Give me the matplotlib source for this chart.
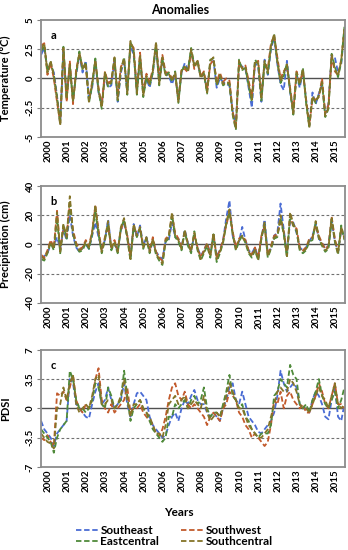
import numpy as np
import matplotlib
matplotlib.use("Agg")
import matplotlib.pyplot as plt

plt.rcParams['font.family'] = ['Lato', 'DejaVu Sans']
plt.rcParams['font.weight'] = 'bold'

years = [str(y) for y in range(2000, 2016)]
regions = ["Southeast", "Southwest", "Eastcentral", "Southcentral"]
colors = ["#4a6cd4", "#c25a2c", "#4f8a3a", "#857428"]

# ---- anomalies, one value every two months from early 2000 ----
# (a) temperature (°C)
temp_se = [2.0, 2.6, 0.8, 1.2, 0.5, -1.5, -3.8, 2.3, -1.5, 1.0, -1.8, 0.3,
           2.0, 0.5, 1.5, -1.8, -0.8, 1.5, -1.2, -2.2, 0.2, -0.8, -0.6, 1.5,
           -2.0, 0.5, 1.5, -1.0, 2.8, 2.0, -1.0, 1.8, -1.3, 0.0, -0.8, 0.5,
           2.7, -0.2, 1.5, 0.5, 0.2, -0.5, 0.3, -1.8, 0.5, 1.3, 0.8, 2.2,
           1.2, 1.3, 0.2, 0.3, -1.0, 1.3, 1.5, -0.8, 0.0, -0.3, -0.5, -0.6,
           -2.8, -4.0, 1.3, 1.0, 0.8, -0.8, -2.5, 1.3, 1.0, -2.0, 1.6, 0.3,
           2.5, 3.5, 1.2, -0.5, -1.0, 1.5, -1.2, -2.8, 0.3, -0.8, 0.6, -1.8,
           -4.0, -1.2, -2.2, -1.3, -0.5, -3.0, -2.2, 2.0, 1.8, 0.5, 1.2, 4.0]
temp_sw = [2.8, 3.0, 0.3, 1.3, 0.0, -2.0, -3.8, 2.5, -2.0, 1.5, -2.2, 0.8,
           2.0, 1.0, 1.0, -1.8, -0.3, 1.4, -0.8, -2.3, 0.6, -0.4, -0.2, 1.6,
           -1.5, 1.0, 1.5, -1.0, 3.0, 2.6, -1.0, 2.2, -1.2, 0.4, -0.3, 0.8,
           3.0, 0.2, 2.0, 0.5, 0.5, 0.0, 0.3, -1.8, 0.8, 0.8, 0.5, 2.3,
           0.8, 1.6, 0.2, 0.6, -1.0, 1.2, 1.6, -0.3, 0.5, -0.3, 0.0, -0.2,
           -2.8, -4.2, 1.3, 0.9, 1.1, -0.2, -1.5, 1.3, 1.5, -1.5, 1.3, 0.8,
           3.0, 3.6, 1.8, 0.0, 0.6, 1.0, -0.8, -2.8, 0.6, -0.3, 0.6, -1.8,
           -4.0, -1.8, -1.8, -1.6, 0.0, -3.0, -2.3, 1.8, 0.6, 0.3, 1.6, 4.1]
temp_ec = [2.3, 2.8, 0.6, 1.4, 0.3, -1.6, -3.9, 2.7, -1.7, 1.1, -1.9, 0.4,
           2.3, 0.7, 1.4, -2.1, -0.6, 1.7, -1.1, -2.6, 0.4, -0.7, -0.4, 1.7,
           -1.9, 0.7, 1.8, -1.4, 3.1, 2.3, -1.4, 1.9, -1.6, 0.1, -0.6, 0.5,
           3.0, -0.6, 1.7, 0.2, 0.5, -0.3, 0.6, -2.1, 0.6, 1.1, 0.7, 2.6,
           1.1, 1.4, 0.1, 0.4, -1.3, 1.6, 1.7, -0.6, 0.2, -0.6, -0.4, -0.5,
           -3.1, -4.4, 1.6, 0.7, 0.9, -0.6, -2.0, 1.6, 1.2, -1.9, 1.4, 0.4,
           2.7, 3.7, 1.4, -0.4, 0.2, 1.3, -1.1, -3.1, 0.4, -0.6, 0.9, -2.1,
           -4.1, -1.6, -2.1, -1.4, -0.4, -3.3, -2.6, 2.1, 1.0, 0.1, 1.4, 4.4]
temp_sc = [2.5, 3.0, 0.5, 1.5, 0.2, -1.8, -4.0, 2.6, -1.8, 1.2, -2.0, 0.5,
           2.2, 0.8, 1.3, -2.0, -0.5, 1.6, -1.0, -2.5, 0.5, -0.6, -0.3, 1.8,
           -1.8, 0.8, 1.7, -1.3, 3.2, 2.4, -1.3, 2.0, -1.5, 0.2, -0.5, 0.6,
           3.1, -0.5, 1.8, 0.3, 0.4, -0.2, 0.5, -2.0, 0.7, 1.0, 0.6, 2.5,
           1.0, 1.5, 0.0, 0.5, -1.2, 1.5, 1.8, -0.5, 0.3, -0.5, -0.3, -0.4,
           -3.0, -4.3, 1.5, 0.8, 1.0, -0.5, -1.8, 1.5, 1.3, -1.8, 1.5, 0.5,
           2.8, 3.8, 1.5, -0.3, 0.5, 1.2, -1.0, -3.0, 0.5, -0.5, 0.8, -2.0,
           -4.2, -1.5, -2.0, -1.5, -0.3, -3.2, -2.5, 2.0, 0.8, 0.2, 1.5, 4.3]

# (b) precipitation (cm)
prcp_se = [-9, -8, -6, 0, -1, 5, -3, 10, 3, 20, 6, -2,
           -5, -2, 0, -3, 6, 15, 5, -3, 3, 17, -2, 0,
           -4, 10, 14, 6, -8, 14, 5, 13, -1, 5, -4, 2,
           -5, -8, -10, 2, 3, 15, 5, 4, -2, 10, 1, -4,
           6, -2, -8, -4, 1, -6, 6, -8, -4, 3, 18, 30,
           6, -2, 2, 12, 3, -4, -6, -2, -9, 4, 17, -6,
           -3, 6, 8, 28, 10, -6, 16, 15, 8, -2, -4, -2,
           2, 6, 14, 4, 1, -3, -1, 16, 2, -5, 10, 5]
prcp_sw = [-7, -9, -4, 3, -2, 23, -4, 12, 6, 28, 10, 1,
           -3, -2, 3, -1, 9, 26, 10, -4, 5, 12, -2, 3,
           -4, 10, 16, 6, -8, 11, 8, 10, -1, 4, -4, 5,
           -5, -9, -11, 4, 6, 20, 8, 4, -2, 8, 1, -4,
           7, -2, -9, -4, 1, -7, 7, -9, -4, 3, 13, 22,
           9, -2, 4, 6, 3, -4, -7, -2, -9, 6, 12, -7,
           -1, 6, 7, 15, 9, -7, 20, 12, 11, -2, -4, -2,
           4, 5, 13, 6, 1, -3, -1, 19, 4, -5, 10, 5]
prcp_ec = [-10, -11, -6, 1, -4, 18, -6, 13, 4, 30, 7, -1,
           -5, -4, 1, -3, 7, 22, 7, -6, 3, 14, -4, 1,
           -6, 11, 17, 4, -11, 12, 5, 11, -3, 4, -6, 3,
           -7, -11, -14, 2, 4, 20, 5, 2, -4, 9, -1, -6,
           9, -4, -11, -6, -1, -9, 7, -12, -6, 1, 14, 22,
           7, -4, 2, 6, 1, -6, -9, -4, -11, 4, 14, -9,
           -3, 4, 5, 18, 7, -9, 20, 13, 9, -4, -6, -4,
           2, 3, 15, 4, -1, -5, -3, 17, 2, -7, 13, 3]
prcp_sc = [-8, -10, -5, 2, -3, 22, -5, 14, 5, 33, 8, 0,
           -4, -3, 2, -2, 8, 27, 8, -5, 4, 16, -3, 2,
           -5, 12, 18, 5, -10, 14, 6, 12, -2, 5, -5, 4,
           -6, -10, -13, 3, 5, 22, 6, 3, -3, 10, 0, -5,
           8, -3, -10, -5, 0, -8, 8, -10, -5, 2, 15, 24,
           8, -3, 3, 5, 2, -5, -8, -3, -10, 5, 15, -8,
           -2, 5, 6, 20, 8, -8, 22, 14, 10, -3, -5, -3,
           3, 4, 16, 5, 0, -4, -2, 18, 3, -6, 12, 4]

# (c) PDSI
pdsi_se = [-1.5, -2.5, -3.0, -3.5, -4.5, -3.0, -2.5, -2.0, -1.5, 3.5, 3.0, 0.5,
           0.0, -0.5, -1.0, -1.2, 0.5, 2.0, 3.0, 0.5, 1.0, 2.5, 1.0, 0.0,
           0.5, 1.0, 3.0, 0.5, -1.0, 0.5, 1.8, 2.0, 1.5, 1.0, -1.0, -2.0,
           -2.5, -3.0, -3.5, -3.2, -2.0, -1.0, -0.5, -1.5, 0.0, 1.0, 0.5, 1.5,
           2.2, 1.0, 0.5, 0.5, -0.5, -1.0, -0.5, -1.0, -1.5, 0.0, 1.0, 2.5,
           3.0, 1.0, 0.5, 2.0, 0.5, -1.0, -1.5, -2.0, -2.8, -3.0, -2.5, -2.0,
           -1.5, -0.5, 1.5, 4.5, 3.0, 2.0, 2.5, 3.0, 2.5, 0.5, 0.0, 0.0,
           -0.5, 1.0, 2.0, 1.5, 0.5, -1.0, -1.3, 1.0, 2.5, -1.0, -1.5, 0.5]
pdsi_sw = [-3.5, -3.8, -3.2, -4.0, -4.5, 1.8, 1.5, 2.0, 1.0, 2.5, 4.0, 1.0,
           0.0, -0.5, 0.5, 0.0, 1.0, 3.5, 4.8, 1.0, 0.0, -0.5, 0.5, -0.5,
           0.0, 0.5, 1.0, 2.5, -0.5, 0.0, 0.0, 0.5, -0.5, -1.0, -1.5, -2.0,
           -3.0, -3.3, -2.5, -1.0, 1.0, 2.5, 3.0, 1.5, 1.0, 2.0, 0.5, 0.0,
           0.5, 0.0, -0.5, -1.0, -2.0, -1.0, -0.5, -1.0, -1.5, 0.0, 0.5, 2.0,
           1.5, 1.0, -0.5, -1.0, -2.0, -2.5, -3.5, -3.0, -3.5, -4.0, -4.5, -4.0,
           -2.0, 1.0, 0.5, 2.0, 0.0, 1.5, 2.0, 1.0, 0.5, 0.0, 0.5, -0.5,
           -0.5, 0.5, 1.5, 3.0, 2.0, 0.5, 0.0, 1.5, 3.0, 0.5, 0.5, 0.0]
pdsi_ec = [-2.5, -3.0, -3.5, -4.0, -5.3, -3.5, -2.5, -2.0, -1.5, 4.5, 3.5, 1.0,
           0.0, 0.0, -0.5, 0.0, 1.0, 3.0, 2.5, 0.5, 0.0, 2.5, 1.5, 0.0,
           0.5, 1.0, 4.5, 1.5, -1.5, 0.0, 0.5, 1.0, 0.0, -0.5, -1.5, -2.5,
           -3.0, -3.5, -4.0, -3.5, -1.0, -1.0, 0.5, 0.0, 0.5, 1.0, 0.0, 1.0,
           1.5, 0.5, 1.0, 2.5, 0.0, -1.0, -0.5, -0.5, -1.0, 0.5, 2.0, 4.0,
           1.5, 1.0, 0.0, 0.5, -1.0, -1.5, -2.5, -3.0, -3.5, -3.0, -3.0, -3.0,
           -2.0, 1.5, 2.0, 3.5, 3.0, 2.5, 5.2, 4.0, 3.5, 0.5, 0.0, 0.5,
           -0.5, 1.0, 2.0, 3.5, 1.5, 0.5, 0.0, 1.0, 2.0, 0.0, 1.0, 2.5]
pdsi_sc = [-3.0, -3.5, -4.0, -4.2, -4.8, 0.0, 0.5, 2.5, 1.0, 3.0, 4.0, 0.5,
           -0.5, 0.0, 0.5, 0.0, 1.5, 3.5, 4.0, 0.5, 0.5, 1.0, 1.0, 0.0,
           0.5, 1.5, 3.5, 1.0, -1.0, 0.5, 0.5, 1.0, 0.0, -0.5, -1.0, -2.0,
           -3.0, -3.0, -3.5, -2.0, 0.5, 1.0, 1.5, 0.5, 1.0, 1.5, 0.0, 0.5,
           1.0, 0.5, 0.0, 1.5, -0.5, -1.5, -1.0, -0.5, -1.0, 0.0, 1.5, 3.0,
           2.0, 1.0, 0.0, 0.0, -1.0, -2.0, -2.5, -3.0, -3.5, -3.5, -3.0, -2.5,
           -1.0, 0.5, 2.0, 2.5, 2.0, 2.0, 3.5, 3.0, 2.0, 0.5, 0.0, 0.0,
           -0.5, 0.5, 1.5, 2.5, 1.5, 1.0, 0.0, 1.5, 3.0, 0.5, 0.0, 0.5]

panels = [
    ("a", "Temperature (°C)", [temp_se, temp_sw, temp_ec, temp_sc],
     [-5, -2.5, 0, 2.5, 5], ["-5", "-2.5", "0", "2.5", "5"], 2.5),
    ("b", "Precipitation (cm)", [prcp_se, prcp_sw, prcp_ec, prcp_sc],
     [-40, -20, 0, 20, 40], ["-40", "-20", "0", "20", "40"], 20),
    ("c", "PDSI", [pdsi_se, pdsi_sw, pdsi_ec, pdsi_sc],
     [-7, -3.5, 0, 3.5, 7], ["-7", "-3.5", "0", "3.5", "7"], 3.5),
]

months = np.arange(len(temp_sc)) * 2          # months since start
year_pos = 4.4 + 12 * np.arange(len(years))   # where the year labels sit

fig = plt.figure(figsize=(3.48, 5.5), dpi=100)
bottoms = [0.751, 0.449, 0.151]

for (letter, ylab, series, yt, ytl, thr), b in zip(panels, bottoms):
    ax = fig.add_axes([0.118, b, 0.874, 0.213])
    lines = []
    for s, c, name in zip(series, colors, regions):
        ln, = ax.plot(months, s, color=c, lw=1.3, ls=(0, (3, 1.5)), label=name)
        lines.append(ln)
    ax.axhline(0, color="#505050", lw=1.0, zorder=1)
    for v in (thr, -thr):
        ax.axhline(v, color="#707070", lw=0.8, ls=(0, (2.5, 2)), zorder=1)
    ax.set_xlim(0, 190.5)
    ax.set_ylim(yt[0], yt[-1])
    ax.set_yticks(yt)
    ax.set_yticklabels(ytl, rotation=90, va="center", fontsize=7, fontweight="bold")
    ax.set_xticks(year_pos)
    ax.set_xticklabels(years, rotation=90, fontsize=7, fontweight="bold")
    ax.tick_params(axis="x", length=0, pad=2)
    ax.tick_params(axis="y", length=3, width=0.8, color="#808080", pad=1.5)
    for sp in ax.spines.values():
        sp.set_color("#8c8c8c")
        sp.set_linewidth(1.3)
    ax.set_ylabel(ylab, fontsize=8, fontweight="bold", labelpad=2)
    ax.yaxis.set_label_coords(-0.1, 0.5)
    ax.text(0.03, 0.84, letter, transform=ax.transAxes, fontsize=8, fontweight="bold")

# legend rows: Southeast / Southwest, then Eastcentral / Southcentral
order = [0, 2, 1, 3]
fig.text(0.518, 0.982, "Anomalies", ha="center", va="center", fontsize=9, fontweight="bold")
fig.text(0.515, 0.069, "Years", ha="center", va="center", fontsize=8.5, fontweight="bold")
fig.legend([lines[i] for i in order], [regions[i] for i in order],
           loc="center", bbox_to_anchor=(0.5, 0.025), ncol=2,
           frameon=False, fontsize=8.5, handlelength=2.0, handletextpad=0.1,
           columnspacing=1.8, labelspacing=0.0, borderpad=0)

fig.savefig("out.png", dpi=100)
